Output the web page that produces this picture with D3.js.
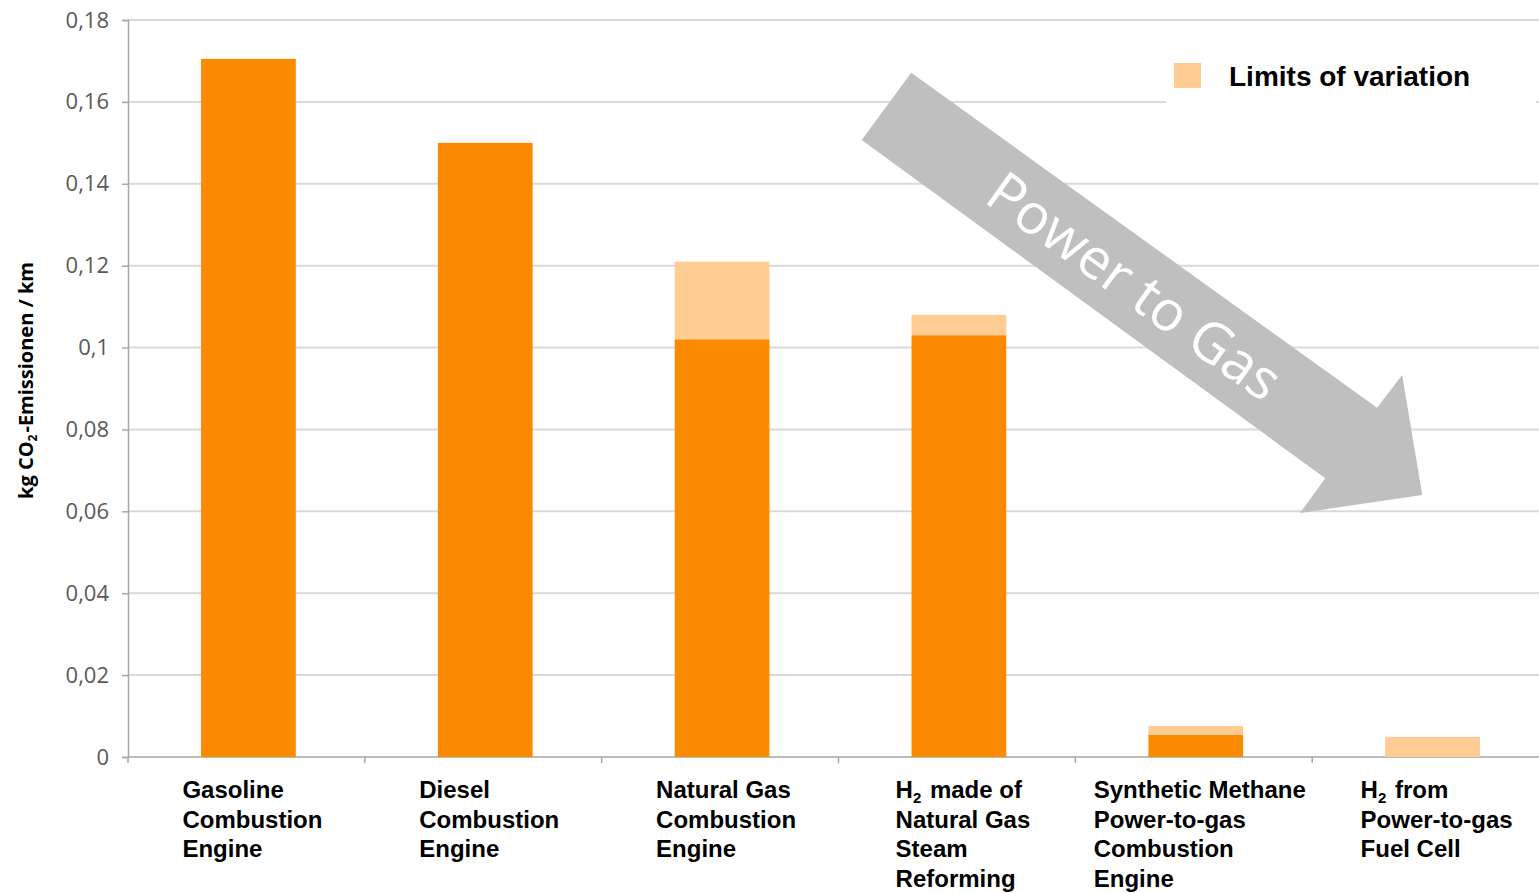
<!DOCTYPE html>
<html lang="en">
  <head>
    <meta charset="utf-8">
    <title>CO2 emissions per km</title>
    <script src="https://d3js.org/d3.v7.min.js"></script>
    <style type="text/css">
      body, html {
        margin: 0;
        padding: 0;
        background: #ffffff;
      }
      .tick text {
        font-family: "Open Sans", sans-serif;
        fill: #595959;
      }
      .xlabel {
        font-family: "Liberation Sans", Arial, sans-serif;
        font-weight: bold;
        font-size: 24px;
        fill: #000;
      }
    </style>
  </head>
  <body>
    <script type="text/javascript">

      // chart values
      var categories = [
        ["Gasoline", "Combustion", "Engine"],
        ["Diesel", "Combustion", "Engine"],
        ["Natural Gas", "Combustion", "Engine"],
        ["H_2 made of", "Natural Gas", "Steam", "Reforming"],
        ["Synthetic Methane", "Power-to-gas", "Combustion", "Engine"],
        ["H_2 from", "Power-to-gas", "Fuel Cell"]
      ];
      var baseValues = [0.1705, 0.150, 0.102, 0.103, 0.0054, 0];
      var upperLimits = [0.1705, 0.150, 0.121, 0.108, 0.0076, 0.0049];
      var yTicks = [0, 0.02, 0.04, 0.06, 0.08, 0.1, 0.12, 0.14, 0.16, 0.18];
      var yTitle = "kg CO_2-Emissionen / km";
      var legendLabel = "Limits of variation";
      var arrowLabel = "Power to Gas";

      var w = 1539;
      var h = 893;

      var margin = { top: 20, bottom: 136, left: 128, right: 0 };

      var svg = d3.select("body")
        .append("svg")
        .attr("width", w)
        .attr("height", h);

      var keys = d3.range(categories.length);

      var x = d3.scaleBand()
        .domain(keys)
        .range([margin.left + 2, margin.left + 2 + 1421])
        .paddingInner(0.6)
        .paddingOuter(0.3);

      // continuous version of the category axis, used for the arrow
      var xu = d3.scaleLinear()
        .domain([0, categories.length])
        .range([margin.left, margin.left + 1421]);

      var y = d3.scaleLinear()
        .domain([0, 0.18])
        .range([h - margin.bottom, margin.top]);

      var locale = d3.formatLocale({ decimal: ",", thousands: ".", grouping: [3], currency: ["", "€"] });
      var fmt = locale.format(".2~f");

      // gridlines
      svg.append("g")
        .selectAll("line")
        .data(yTicks.filter(function(d) { return d > 0; }))
        .enter()
        .append("line")
        .attr("x1", margin.left)
        .attr("x2", w)
        .attr("y1", function(d) { return y(d); })
        .attr("y2", function(d) { return y(d); })
        .style("stroke", "#d9d9d9")
        .style("stroke-width", 2);

      // y axis
      var yAxis = svg.append("g")
        .attr("transform", "translate(" + margin.left + ",0)")
        .call(d3.axisLeft(y).tickValues(yTicks).tickFormat(fmt).tickSize(6).tickPadding(13));
      yAxis.select(".domain").style("stroke", "#a6a6a6").style("stroke-width", 1.5);
      yAxis.selectAll(".tick line").style("stroke", "#a6a6a6").style("stroke-width", 1.5);
      yAxis.selectAll(".tick text").style("font-size", "22px");

      // x axis line + category ticks
      var xAxis = svg.append("g");
      xAxis.append("line")
        .attr("x1", margin.left)
        .attr("x2", w)
        .attr("y1", y(0))
        .attr("y2", y(0))
        .style("stroke", "#a6a6a6")
        .style("stroke-width", 1.5);
      xAxis.selectAll(".ctick")
        .data(d3.range(categories.length + 1))
        .enter()
        .append("line")
        .attr("class", "ctick")
        .attr("x1", function(d) { return xu(d); })
        .attr("x2", function(d) { return xu(d); })
        .attr("y1", y(0))
        .attr("y2", y(0) + 6)
        .style("stroke", "#a6a6a6")
        .style("stroke-width", 1.5);

      // variation bars (light)
      svg.append("g")
        .selectAll("rect")
        .data(keys)
        .enter()
        .append("rect")
        .attr("x", function(i) { return x(i); })
        .attr("width", x.bandwidth())
        .attr("y", function(i) { return y(upperLimits[i]); })
        .attr("height", function(i) { return y(baseValues[i]) - y(upperLimits[i]); })
        .style("fill", "#ffcc93");

      // base bars
      svg.append("g")
        .selectAll("rect")
        .data(keys)
        .enter()
        .append("rect")
        .attr("x", function(i) { return x(i); })
        .attr("width", x.bandwidth())
        .attr("y", function(i) { return y(baseValues[i]); })
        .attr("height", function(i) { return y(0) - y(baseValues[i]); })
        .style("fill", "#fb8a00");

      // writes a string where "_2" means subscript 2
      function writeRich(sel, str, subSize, shift) {
        var parts = str.split(/_(\d)/);
        parts.forEach(function(p, k) {
          if (p === "") return;
          if (k % 2 === 1) {
            sel.append("tspan").attr("font-size", subSize).attr("dy", shift).text(p);
            sel.append("tspan").attr("dy", -shift).text("\u200a");
          } else {
            sel.append("tspan").text(p);
          }
        });
      }

      // category labels
      var labels = svg.append("g")
        .selectAll("g")
        .data(keys)
        .enter()
        .append("g");

      labels.each(function(i) {
        var g = d3.select(this);
        categories[i].forEach(function(line, j) {
          var t = g.append("text")
            .attr("class", "xlabel")
            .attr("y", y(0) + 41 + j * 29.5);
          writeRich(t, line, "15px", 5);
        });
        var maxW = d3.max(g.selectAll("text").nodes(), function(n) { return n.getComputedTextLength(); });
        g.attr("transform", "translate(" + (x(i) + x.bandwidth() / 2 + 4 - maxW / 2) + ",0)");
      });

      // y title
      var yt = svg.append("text")
        .attr("transform", "translate(33," + (y(0.09) - 8) + ") rotate(-90)")
        .attr("text-anchor", "middle")
        .style("font-family", "'Open Sans', sans-serif")
        .style("font-weight", "bold")
        .style("font-size", "20px")
        .style("fill", "#000");
      writeRich(yt, yTitle, "12px", 4);

      // legend
      var legend = svg.append("g");
      legend.append("rect")
        .attr("x", 1166)
        .attr("y", 44)
        .attr("width", 370)
        .attr("height", 86)
        .style("fill", "#fff");
      legend.append("rect")
        .attr("x", 1174)
        .attr("y", 63)
        .attr("width", 27)
        .attr("height", 25)
        .style("fill", "#ffcc93");
      legend.append("text")
        .attr("x", 1229)
        .attr("y", 86)
        .style("font-family", "'Liberation Sans', Arial, sans-serif")
        .style("font-weight", "bold")
        .style("font-size", "28px")
        .text(legendLabel);

      // "Power to Gas" arrow, outline in (category units, value) space
      var arrowPts = [
        [3.098, 0.1507], [3.307, 0.1671], [5.274, 0.0853], [5.380, 0.0933],
        [5.465, 0.0640], [4.949, 0.0596], [5.055, 0.0681]
      ];
      var arrowLine = d3.line()
        .x(function(d) { return xu(d[0]); })
        .y(function(d) { return y(d[1]); });
      svg.append("path")
        .attr("d", arrowLine(arrowPts) + "Z")
        .style("fill", "#bfbfbf");

      var ax = xu(4.25), ay = y(0.1150);
      var ang = Math.atan2(y(0.0853) - y(0.1671), xu(5.274) - xu(3.307)) * 180 / Math.PI;
      svg.append("text")
        .attr("transform", "translate(" + ax + "," + ay + ") rotate(" + ang + ")")
        .attr("text-anchor", "middle")
        .attr("dy", "0.35em")
        .style("font-family", "'Open Sans', sans-serif")
        .style("font-size", "56px")
        .style("fill", "#fff")
        .text(arrowLabel);

    </script>
  </body>
</html>
